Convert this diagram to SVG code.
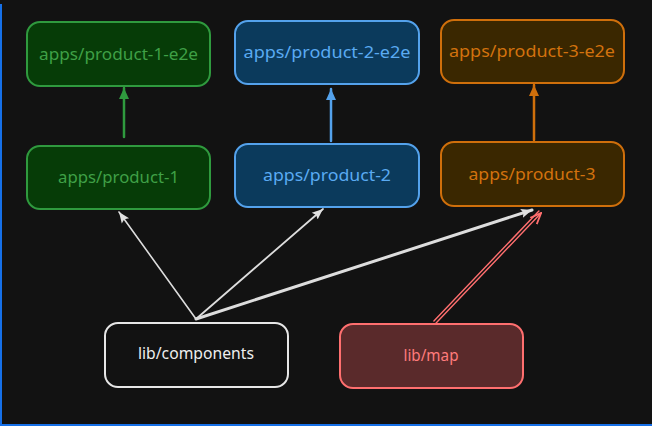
<svg xmlns="http://www.w3.org/2000/svg" width="652" height="426" viewBox="0 0 652 426">
<style>
.box{stroke-width:2}
.g rect{fill:#063c07;stroke:#2f9a3e}
.g text{fill:#3fa046}
.b rect{fill:#0b3a5c;stroke:#54a2ec}
.b text{fill:#5aaaf2}
.o rect{fill:#3a2700;stroke:#cf6f0b}
.o text{fill:#d2720e}
.w rect{fill:#121212;stroke:#e6e6e6}
.w text{fill:#eeeeee}
.r rect{fill:#5a2a2b;stroke:#ff6f6f}
.r text{fill:#ff7b7b}
text{font-family:"Noto Sans","Liberation Sans",sans-serif;font-size:17px;text-anchor:middle}
.c line{fill:none;stroke-linecap:round}
</style>
<defs>
<marker id="ag" markerUnits="userSpaceOnUse" markerWidth="12" markerHeight="12" viewBox="0 0 12 12" refX="11" refY="6" orient="auto"><path d="M0,1 L11,6 L0,11 Z" fill="#2f9a3e"/></marker>
<marker id="ab" markerUnits="userSpaceOnUse" markerWidth="12" markerHeight="12" viewBox="0 0 12 12" refX="11" refY="6" orient="auto"><path d="M0,1 L11,6 L0,11 Z" fill="#54a2ec"/></marker>
<marker id="ao" markerUnits="userSpaceOnUse" markerWidth="12" markerHeight="12" viewBox="0 0 12 12" refX="11" refY="6" orient="auto"><path d="M0,1 L11,6 L0,11 Z" fill="#cf6f0b"/></marker>
<marker id="aw" markerUnits="userSpaceOnUse" markerWidth="12" markerHeight="12" viewBox="0 0 12 12" refX="11" refY="6" orient="auto"><path d="M0,1.5 L11,6 L0,10.5 L2,6 Z" fill="#e0e0e0"/></marker>
<marker id="ar" markerUnits="userSpaceOnUse" markerWidth="12" markerHeight="12" viewBox="0 0 12 12" refX="11" refY="6" orient="auto"><path d="M0,1.5 L11,6 L0,10.5" fill="none" stroke="#ff6f6f" stroke-width="1.8"/></marker>
</defs>
<rect x="0" y="0" width="652" height="426" fill="#121212"/>
<path d="M1,4 L1,425 L652,425" fill="none" stroke="#1670e8" stroke-width="2"/>

<g id="connectors" class="c">
<line x1="124" y1="137" x2="124" y2="88" stroke="#2f9a3e" stroke-width="2.5" marker-end="url(#ag)"/>
<line x1="331" y1="141" x2="331" y2="89" stroke="#54a2ec" stroke-width="2.5" marker-end="url(#ab)"/>
<line x1="534" y1="140" x2="534" y2="85" stroke="#cf6f0b" stroke-width="2.5" marker-end="url(#ao)"/>
<line x1="196" y1="319" x2="119" y2="212" stroke="#dddddd" stroke-width="1.6" marker-end="url(#aw)"/>
<line x1="196" y1="319" x2="323" y2="209" stroke="#dddddd" stroke-width="1.8" marker-end="url(#aw)"/>
<line x1="196" y1="319" x2="532" y2="210" stroke="#dddddd" stroke-width="3" marker-end="url(#aw)"/>
<line x1="433.9" y1="321" x2="538.9" y2="211" stroke="#ff6f6f" stroke-width="1.4"/>
<line x1="436.1" y1="323" x2="541.1" y2="213" stroke="#ff6f6f" stroke-width="1.4" marker-end="url(#ar)"/>
</g>

<g id="product-1-e2e" class="g"><rect class="box" x="27" y="22" width="183" height="64" rx="13"/><text x="118.5" y="60" textLength="159" lengthAdjust="spacingAndGlyphs">apps/product-1-e2e</text></g>
<g id="product-1" class="g"><rect class="box" x="27" y="146" width="183" height="63" rx="13"/><text x="118.5" y="183" textLength="121" lengthAdjust="spacingAndGlyphs">apps/product-1</text></g>
<g id="product-2-e2e" class="b"><rect class="box" x="235" y="21" width="184" height="63" rx="13"/><text x="327" y="58" textLength="167" lengthAdjust="spacingAndGlyphs">apps/product-2-e2e</text></g>
<g id="product-2" class="b"><rect class="box" x="235" y="144" width="184" height="63" rx="13"/><text x="327" y="181" textLength="128" lengthAdjust="spacingAndGlyphs">apps/product-2</text></g>
<g id="product-3-e2e" class="o"><rect class="box" x="441" y="20" width="183" height="63" rx="13"/><text x="532" y="57" textLength="166" lengthAdjust="spacingAndGlyphs">apps/product-3-e2e</text></g>
<g id="product-3" class="o"><rect class="box" x="441" y="142" width="183" height="64" rx="13"/><text x="532" y="180" textLength="127" lengthAdjust="spacingAndGlyphs">apps/product-3</text></g>
<g id="lib-components" class="w"><rect class="box" x="105" y="323" width="183" height="64" rx="13"/><text x="196" y="359" textLength="116" lengthAdjust="spacingAndGlyphs">lib/components</text></g>
<g id="lib-map" class="r"><rect class="box" x="340" y="324" width="183" height="64" rx="13"/><text x="431" y="361" textLength="55" lengthAdjust="spacingAndGlyphs">lib/map</text></g>
</svg>
